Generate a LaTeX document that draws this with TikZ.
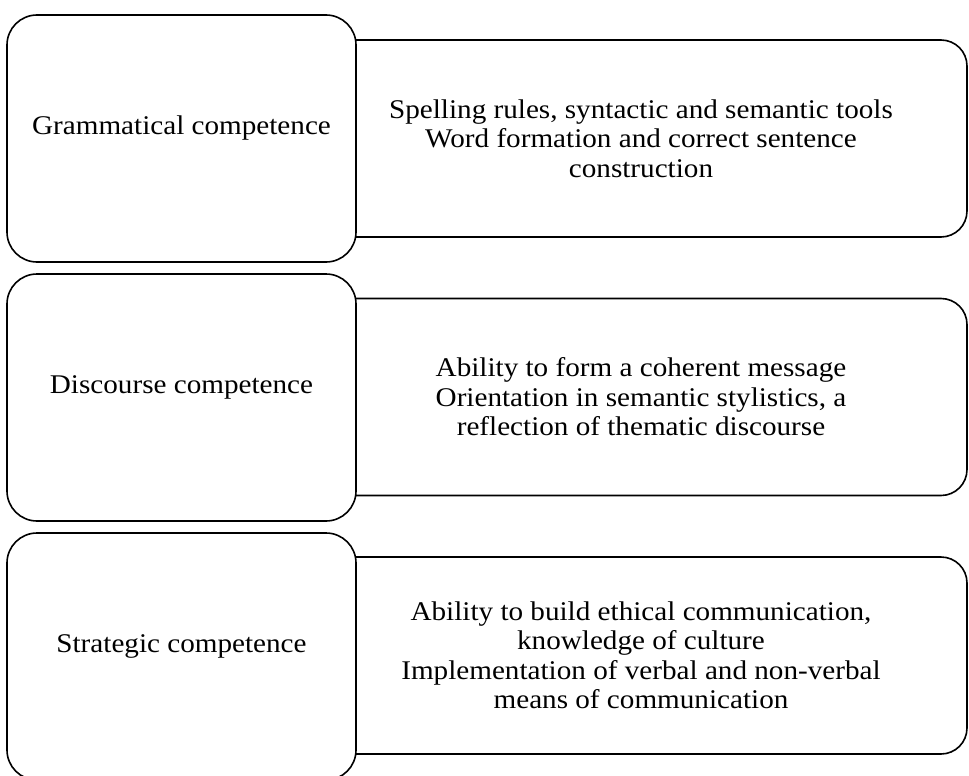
\documentclass[tikz,border=0pt]{standalone}
\usepackage{fontspec}
\setmainfont[FakeStretch=1.08]{Liberation Serif}
\usetikzlibrary{positioning}
\tikzset{
  compbox/.style={draw, line width=1.6pt, fill=white, rounded corners=30pt,
    minimum width=349pt, minimum height=247pt, align=center, text depth=26pt,
    font=\fontsize{27}{29.5}\selectfont},
  descbox/.style={draw, line width=1.6pt, fill=white, rounded corners=26pt,
    minimum width=652pt, minimum height=197pt, align=center,
    font=\fontsize{27}{29.5}\selectfont},
}
\begin{document}
\begin{tikzpicture}[x=1pt, y=-1pt]
  \useasboundingbox (0,0) rectangle (969,776);
  % descriptions, behind the competence boxes
  \node[descbox] (gramdesc) at (641,138.5) {Spelling rules, syntactic and semantic tools\\ Word formation and correct sentence\\ construction};
  \node[descbox] (discdesc) at (641,397) {Ability to form a coherent message\\ Orientation in semantic stylistics, a\\ reflection of thematic discourse};
  \node[descbox] (stratdesc) at (641,655.5) {Ability to build ethical communication,\\ knowledge of culture\\ Implementation of verbal and non-verbal\\ means of communication};
  % competences
  \node[compbox] (gram) at (181.5,138.5) {Grammatical competence};
  \node[compbox] (disc) at (181.5,397.5) {Discourse competence};
  \node[compbox] (strat) at (181.5,656.5) {Strategic competence};
\end{tikzpicture}
\end{document}
